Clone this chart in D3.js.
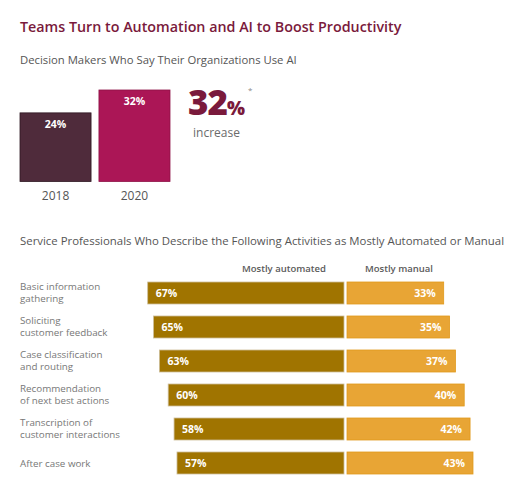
<!DOCTYPE html>
<html><head><meta charset="utf-8">
<script src="https://cdn.jsdelivr.net/npm/d3@7"></script>
<style>body{margin:0;background:#fff}svg{display:block}text{font-family:"Open Sans",sans-serif}</style>
</head><body><svg id="c" width="512" height="481"></svg>
<script>
const years = ["2018", "2020"];
const aiUse = [24, 32];
const increaseLabel = "32%";
const activities = [
  ["Basic information", "gathering"],
  ["Soliciting", "customer feedback"],
  ["Case classification", "and routing"],
  ["Recommendation", "of next best actions"],
  ["Transcription of", "customer interactions"],
  ["After case work"]
];
const automated = [67, 65, 63, 60, 58, 57];
const manual = [33, 35, 37, 40, 42, 43];

const svg = d3.select("#c");
const gray = "#6b6b6b";

svg.append("text").attr("x", 20).attr("y", 32).attr("font-size", 14.3).attr("font-weight", 600)
  .attr("fill", "#7a1a3c").text("Teams Turn to Automation and AI to Boost Productivity");
svg.append("text").attr("x", 20).attr("y", 64).attr("font-size", 11.3).attr("fill", "#555")
  .text("Decision Makers Who Say Their Organizations Use AI");

// Top bars
const xb = d3.scaleBand().domain(years).range([20, 170]).paddingInner(0.1);
const yb = d3.scaleLinear().domain([0, 32]).range([181.5, 90]);
const barCols = ["#4f2b3b", "#ab1656"];
const gTop = svg.append("g");
gTop.selectAll("rect").data(aiUse).join("rect")
  .attr("x", (d, i) => xb(years[i])).attr("width", xb.bandwidth())
  .attr("y", d => yb(d)).attr("height", d => yb(0) - yb(d))
  .attr("fill", (d, i) => barCols[i]).attr("stroke", (d,i)=> i==0?"#2e1822":"#8e1247").attr("stroke-width", 0.8);
gTop.selectAll("text.v").data(aiUse).join("text").attr("class", "v")
  .attr("x", (d, i) => xb(years[i]) + xb.bandwidth() / 2).attr("y", d => yb(d) + 15)
  .attr("text-anchor", "middle").attr("font-size", 10.5).attr("font-weight", 700).attr("fill", "#fff")
  .text(d => d + "%");
gTop.selectAll("text.y").data(years).join("text").attr("class", "y")
  .attr("x", d => xb(d) + xb.bandwidth() / 2).attr("y", 200)
  .attr("text-anchor", "middle").attr("font-size", 12).attr("fill", "#555").text(d => d);

const big = svg.append("text").attr("x", 188).attr("y", 115).attr("fill", "#7a1a3c").attr("font-weight", 800);
big.append("tspan").attr("font-size", 35).attr("letter-spacing", -1).text(increaseLabel.replace("%", ""));
big.append("tspan").attr("font-size", 19).text("%");
svg.append("text").attr("x", 248).attr("y", 93).attr("font-size", 8).attr("fill", "#888").text("*");
svg.append("text").attr("x", 193).attr("y", 137).attr("font-size", 12).attr("fill", gray).text("increase");

svg.append("text").attr("x", 20).attr("y", 245).attr("font-size", 11.4).attr("fill", "#555")
  .text("Service Professionals Who Describe the Following Activities as Mostly Automated or Manual");

// Diverging bars
const xa = d3.scaleLinear().domain([0, 100]).range([344, 344 - 293]);
const xm = d3.scaleLinear().domain([0, 100]).range([347, 347 + 293]);
const yr = d3.scaleBand().domain(d3.range(activities.length)).range([282, 474]).paddingInner(12 / 34);
const bh = yr.bandwidth();

svg.append("text").attr("x", 284).attr("y", 272).attr("text-anchor", "middle").attr("font-size", 9.5)
  .attr("font-weight", 600).attr("fill", "#5a5a5a").text("Mostly automated");
svg.append("text").attr("x", 399).attr("y", 272).attr("text-anchor", "middle").attr("font-size", 9.5)
  .attr("font-weight", 600).attr("fill", "#5a5a5a").text("Mostly manual");

const rows = svg.append("g").selectAll("g").data(activities).join("g")
  .attr("transform", (d, i) => `translate(0,${yr(i)})`);
rows.append("rect").attr("x", (d, i) => xa(automated[i])).attr("width", (d, i) => xa(0) - xa(automated[i]))
  .attr("height", bh).attr("fill", "#a07400").attr("stroke", "#cdbd98").attr("stroke-width", 0.8);
rows.append("rect").attr("x", xm(0)).attr("width", (d, i) => xm(manual[i]) - xm(0))
  .attr("height", bh).attr("fill", "#e8a535").attr("stroke", "#e09a1c").attr("stroke-width", 0.8);
rows.append("text").attr("x", (d, i) => xa(automated[i]) + 8).attr("y", bh / 2 + 4)
  .attr("font-size", 10.5).attr("font-weight", 700).attr("fill", "#fff").text((d, i) => automated[i] + "%");
rows.append("text").attr("x", (d, i) => xm(manual[i]) - 8).attr("y", bh / 2 + 4).attr("text-anchor", "end")
  .attr("font-size", 10.5).attr("font-weight", 700).attr("fill", "#fff").text((d, i) => manual[i] + "%");
rows.each(function (d) {
  const g = d3.select(this);
  const n = d.length;
  d.forEach((line, j) => {
    g.append("text").attr("x", 20).attr("y", bh / 2 + 4 + (j - (n - 1) / 2) * 11.5 - (n > 1 ? 1 : 0))
      .attr("font-size", 9.8).attr("fill", "#777").text(line);
  });
});
</script></body></html>
